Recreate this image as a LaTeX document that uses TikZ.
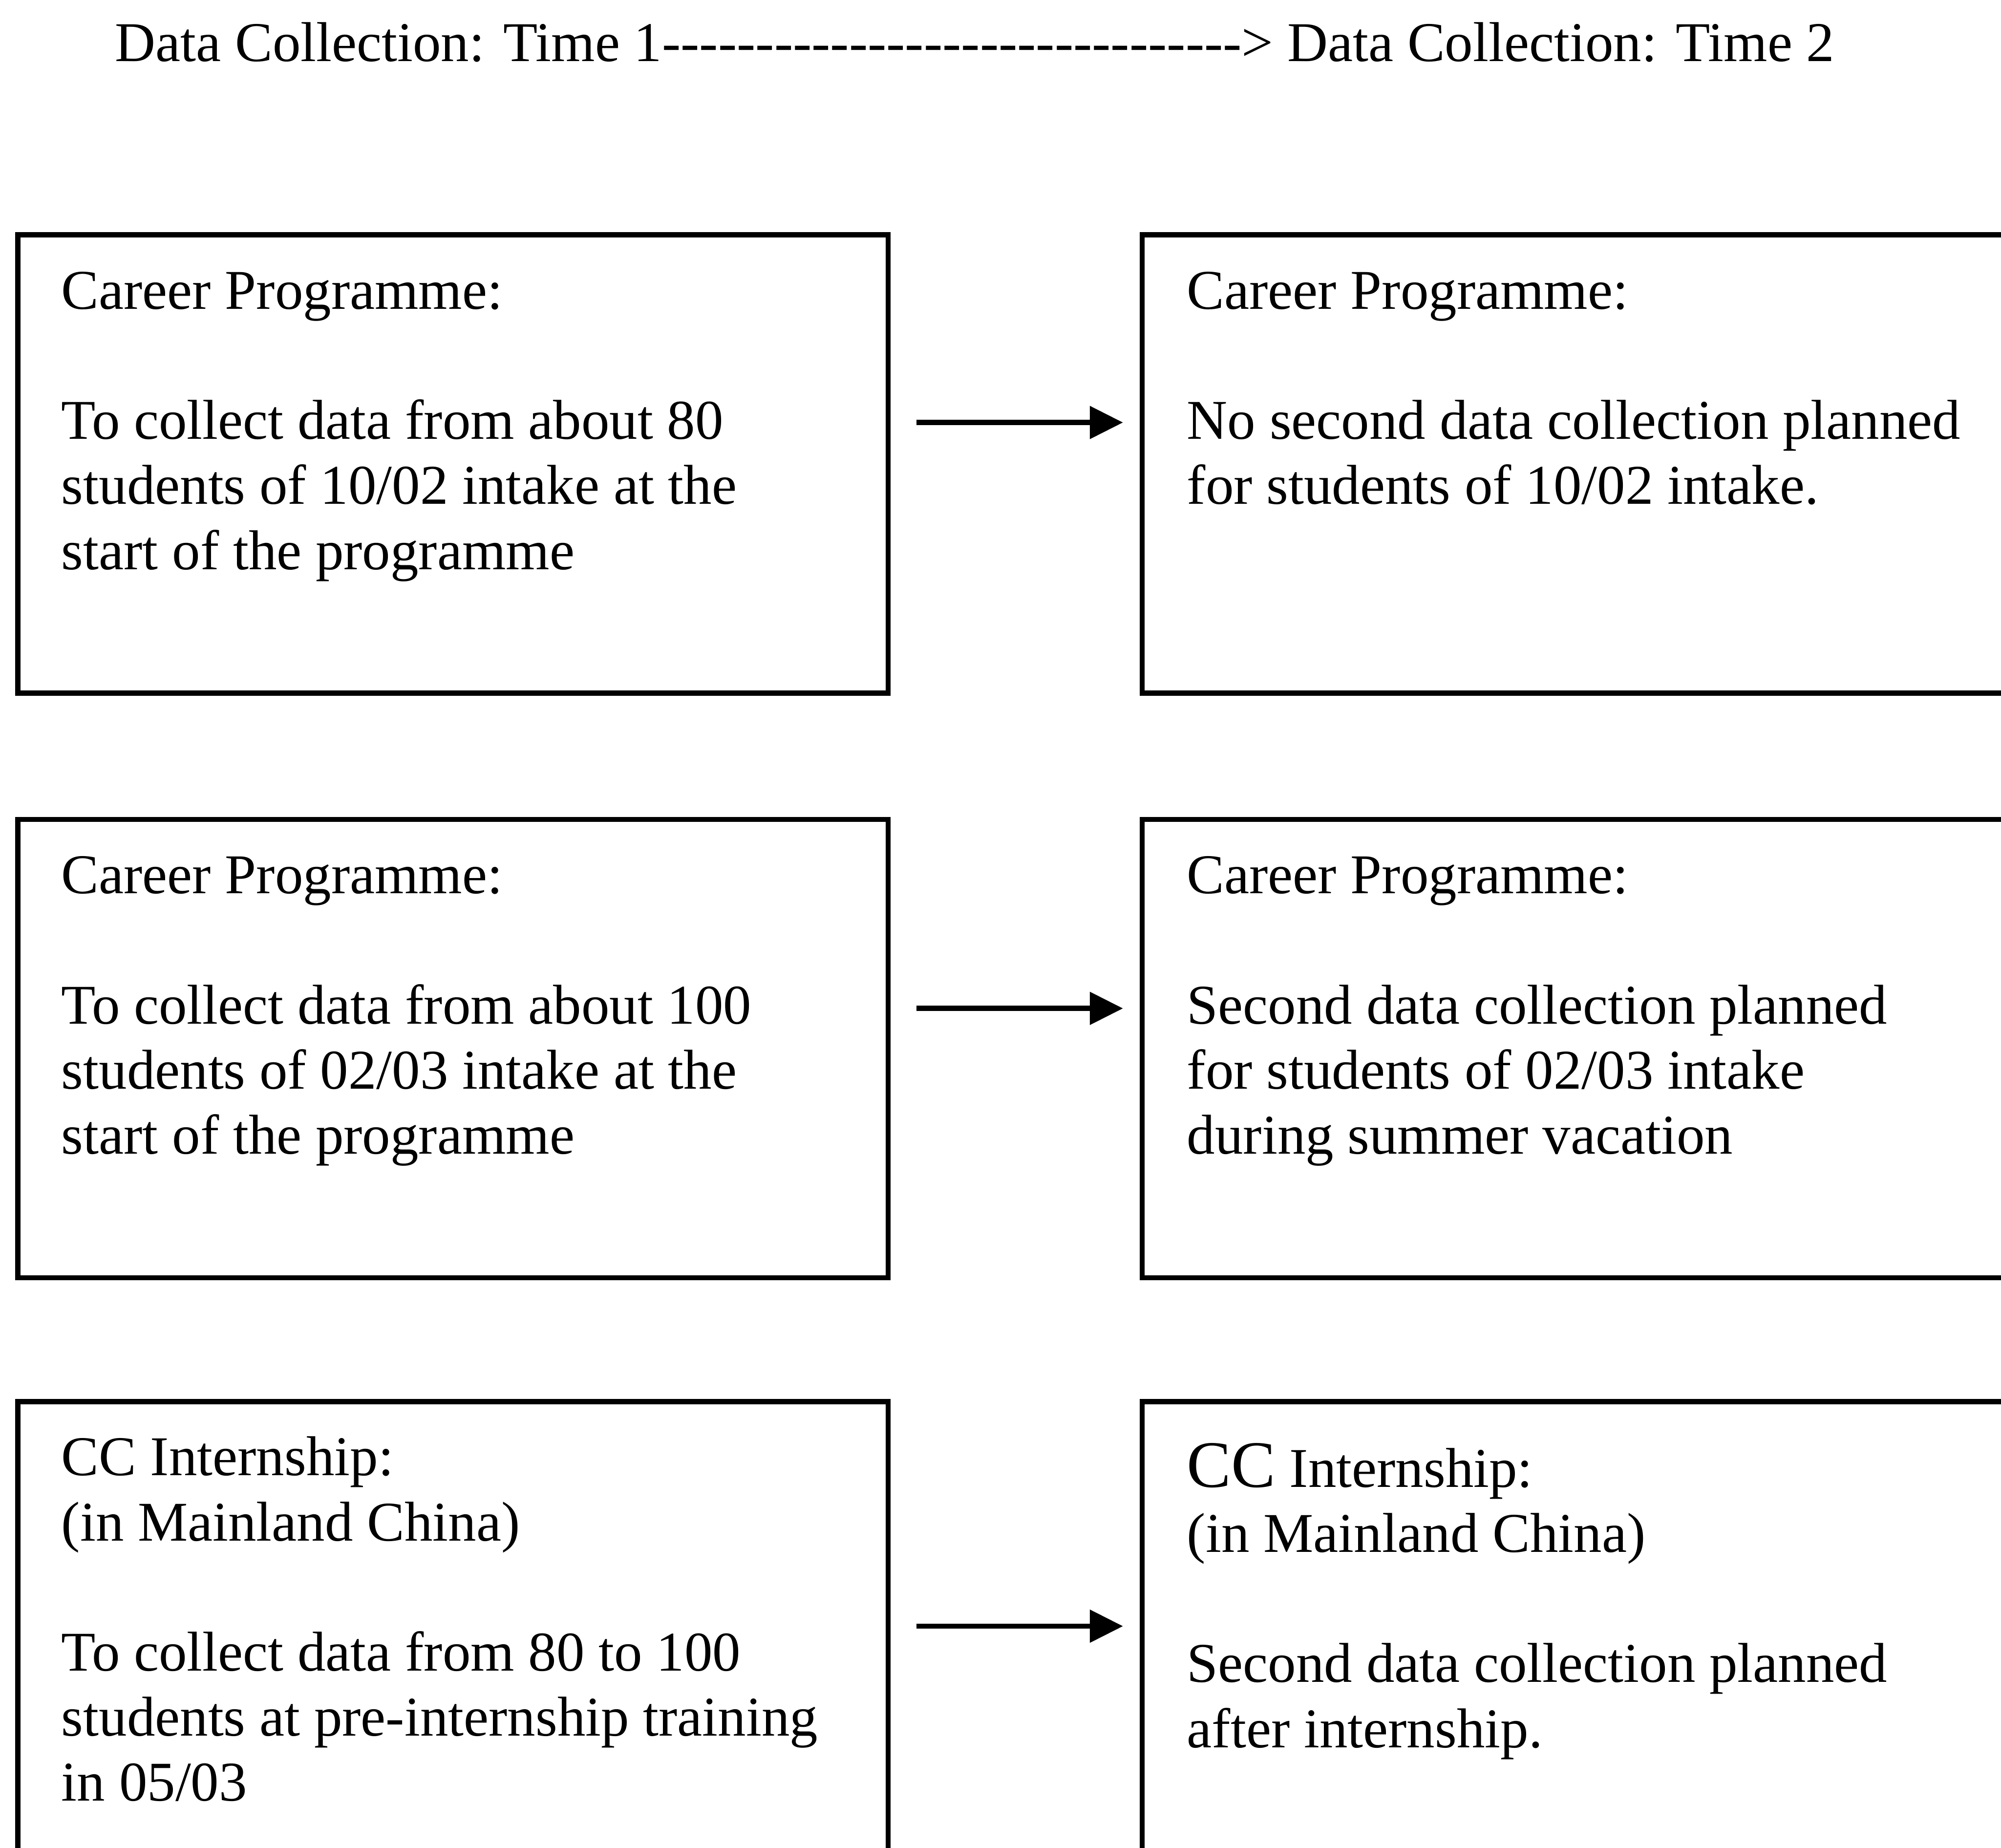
\documentclass[tikz,border=0pt]{standalone}
\usepackage{fontspec}
\setmainfont{Liberation Serif}[Ligatures=TeXOff]
\usetikzlibrary{arrows.meta}

\begin{document}
\begin{tikzpicture}[x=1pt, y=-1pt,
  box/.style = {draw, line width=4pt, inner sep=0pt, outer sep=0pt, anchor=north west, minimum height=359pt},
  lbox/.style = {box, minimum width=682pt},
  rbox/.style = {box, minimum width=760pt},
  txt/.style = {anchor=base west, align=left, inner sep=0pt, font=\fontsize{44}{51}\selectfont},
  flow/.style = {-{Triangle[length=26pt,width=25pt]}, line width=4pt, shorten <=22pt, shorten >=15pt}]
  \clip (0,0) rectangle (1568,1447.6);

  % heading
  \node[txt] (head) at (90,48) {Data Collection: Time 1-------------------------------> Data Collection: Time 2};

  % boxes
  \node[lbox] (l1) at (14,184) {};
  \node[rbox] (r1) at (895,184) {};
  \node[lbox] (l2) at (14,642) {};
  \node[rbox] (r2) at (895,642) {};
  \node[lbox] (l3) at (14,1098) {};
  \node[rbox] (r3) at (895,1098) {};

  % texts (anchored on the baseline of their last line)
  \node[txt] (l1t) at ([shift={(34pt,-262pt)}]l1.north west) {Career Programme:\\[51pt]
    To collect data from about 80\\ students of 10/02 intake at the\\ start of the programme};
  \node[txt] (r1t) at ([shift={(35pt,-211pt)}]r1.north west) {Career Programme:\\[51pt]
    No second data collection planned\\ for students of 10/02 intake.};
  \node[txt] (l2t) at ([shift={(34pt,-262pt)}]l2.north west) {Career Programme:\\[51pt]
    To collect data from about 100\\ students of 02/03 intake at the\\ start of the programme};
  \node[txt] (r2t) at ([shift={(35pt,-262pt)}]r2.north west) {Career Programme:\\[51pt]
    Second data collection planned\\ for students of 02/03 intake\\ during summer vacation};
  \node[txt] (l3t) at ([shift={(34pt,-313pt)}]l3.north west) {CC Internship:\\ (in Mainland China)\\[51pt]
    To collect data from 80 to 100\\ students at pre-internship training\\ in 05/03};
  \node[txt] (r3t) at ([shift={(35pt,-271pt)}]r3.north west) {{\fontsize{52}{51}\selectfont CC} Internship:\\ (in Mainland China)\\[51pt]
    Second data collection planned\\ after internship.};

  % arrows
  \draw[flow] ([yshift=-147pt]l1.north east) -- ([yshift=-147pt]r1.north west);
  \draw[flow] ([yshift=-148pt]l2.north east) -- ([yshift=-148pt]r2.north west);
  \draw[flow] ([yshift=-176pt]l3.north east) -- ([yshift=-176pt]r3.north west);
\end{tikzpicture}
\end{document}
